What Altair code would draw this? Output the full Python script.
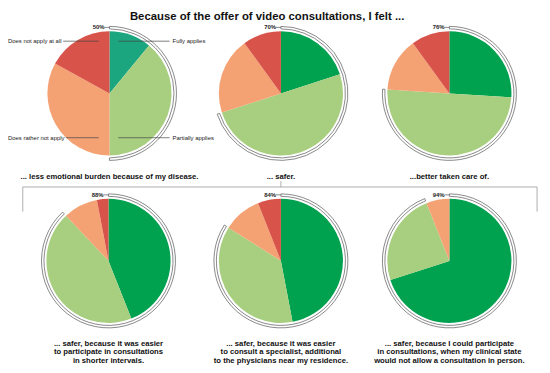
import altair as alt
import pandas as pd

# ---------------- data ----------------
title_text = "Because of the offer of video consultations, I felt ..."
questions = [
    "... less emotional burden because of my disease.",
    "... safer.",
    "...better taken care of.",
    "... safer, because it was easier\nto participate in consultations\nin shorter intervals.",
    "... safer, because it was easier\nto consult a specialist, additional\nto the physicians near my residence.",
    "... safer, because I could participate\nin consultations, when my clinical state\nwould not allow a consultation in person.",
]
answers = ["Fully applies", "Partially applies", "Does rather not apply", "Does not apply at all"]
fully = [11, 20, 26, 44, 47, 70]
partially = [39, 50, 50, 44, 37, 24]
rather_not = [33, 20, 14, 9, 10, 6]
not_at_all = [17, 10, 10, 3, 6, 0]

# ---------------- layout / style ----------------
W, H = 542, 357
cx = [103, 277, 448, 102, 277, 448]
cy = [84, 84, 84, 254, 254, 254]
text_y = [165, 165, 165, 334, 334, 334]
R = 63
colors = ["#00a14f", "#a8cf7f", "#f4a274", "#d8534a"]
teal = "#1ca67f"
FONT = "Liberation Sans"

rows = []
for i, q in enumerate(questions):
    vals = [fully[i], partially[i], rather_not[i], not_at_all[i]]
    for j, a in enumerate(answers):
        rows.append({"q": i, "answer": a, "order": j, "value": vals[j], "cx": cx[i], "cy": cy[i]})
df = pd.DataFrame(rows)

qdf = pd.DataFrame({
    "q": list(range(len(questions))),
    "question": questions,
    "agree": [f + p for f, p in zip(fully, partially)],
    "cx": cx, "cy": cy, "ty": text_y,
})

xs = alt.Scale(domain=[0, W], range=[0, W], nice=False, zero=False)
ys = alt.Scale(domain=[0, H], range=[0, H], nice=False, zero=False)
ts = alt.Scale(domain=[0, 100], range=[0, 6.283185307])

X = lambda f: alt.X(f, type="quantitative", scale=xs, axis=None)
Y = lambda f: alt.Y(f, type="quantitative", scale=ys, axis=None)

pie = alt.Chart(df).transform_window(
    cum="sum(value)", groupby=["q"], sort=[alt.SortField("order", order="ascending")], frame=[None, 0]
).transform_calculate(start="datum.cum - datum.value").mark_arc(radius=R).encode(
    x=X("cx"), y=Y("cy"),
    theta=alt.Theta("start:Q", scale=ts, stack=False),
    theta2="cum:Q",
    fill=alt.condition(
        "datum.q == 0 && datum.order == 0",
        alt.value(teal),
        alt.Fill("answer:N", scale=alt.Scale(domain=answers, range=colors), legend=None),
    ),
)

band = alt.Chart(qdf).transform_calculate(zero="0").mark_arc(
    innerRadius=65.5, radius=68, fill="white", stroke="#555555", strokeWidth=0.7
).encode(
    x=X("cx"), y=Y("cy"),
    theta=alt.Theta("zero:Q", scale=ts, stack=False),
    theta2="agree:Q",
)

pct = alt.Chart(qdf).transform_calculate(
    label="datum.agree + '%'", lx="datum.cx - 5", ly="datum.cy - 67"
)
pct_text = pct.mark_text(align="right", baseline="middle", fontSize=6, fontWeight="bold", font=FONT, color="#222").encode(
    x=X("lx"), y=Y("ly"), text="label:N"
)
pct_line = pct.mark_rule(color="#555555", strokeWidth=0.7).encode(
    x=X("lx"), x2="cx:Q", y=Y("ly")
)

sub = alt.Chart(qdf).mark_text(
    align="center", baseline="top", fontSize=7.8, fontWeight="bold", font=FONT,
    lineBreak="\n", lineHeight=9, color="#111"
).encode(x=X("cx"), y=Y("ty"), text="question:N")

title = alt.Chart(pd.DataFrame({"t": [title_text]})).mark_text(
    align="center", baseline="top", fontSize=11.5, fontWeight="bold", font=FONT, color="#111"
).encode(x=alt.value(263), y=alt.value(0), text="t:N")

# annotations of the first pie
ann = pd.DataFrame({
    "text": answers,
    "tx": [167, 167, 0, 0],
    "ty": [31, 129, 129, 31],
    "lx1": [112, 112, 59, 56],
    "lx2": [164, 164, 92, 92],
})
ann_text = alt.Chart(ann).mark_text(align="left", baseline="middle", fontSize=6, font=FONT, color="#222").encode(
    x=X("tx"), y=Y("ty"), text="text:N"
)
ann_line = alt.Chart(ann).mark_rule(color="#444444", strokeWidth=0.7).encode(
    x=X("lx1"), x2="lx2:Q", y=Y("ty")
)

# bracket grouping the "safer" sub-items
br = pd.DataFrame({
    "x1": [15, 15, 537, 277],
    "x2": [537, 15, 537, 277],
    "y1": [179, 179, 179, 173],
    "y2": [179, 204, 204, 179],
})
bracket = alt.Chart(br).mark_rule(color="#999999", strokeWidth=0.8).encode(
    x=X("x1"), x2="x2:Q", y=Y("y1"), y2="y2:Q"
)

chart = alt.layer(
    band, pie, pct_line, pct_text, ann_line, ann_text, bracket, sub, title
).properties(
    width=W, height=H, padding=0, autosize=alt.AutoSizeParams(type="none")
).configure_view(stroke=None)

chart.save("out.html", embed_options={"renderer": "svg", "actions": False})
